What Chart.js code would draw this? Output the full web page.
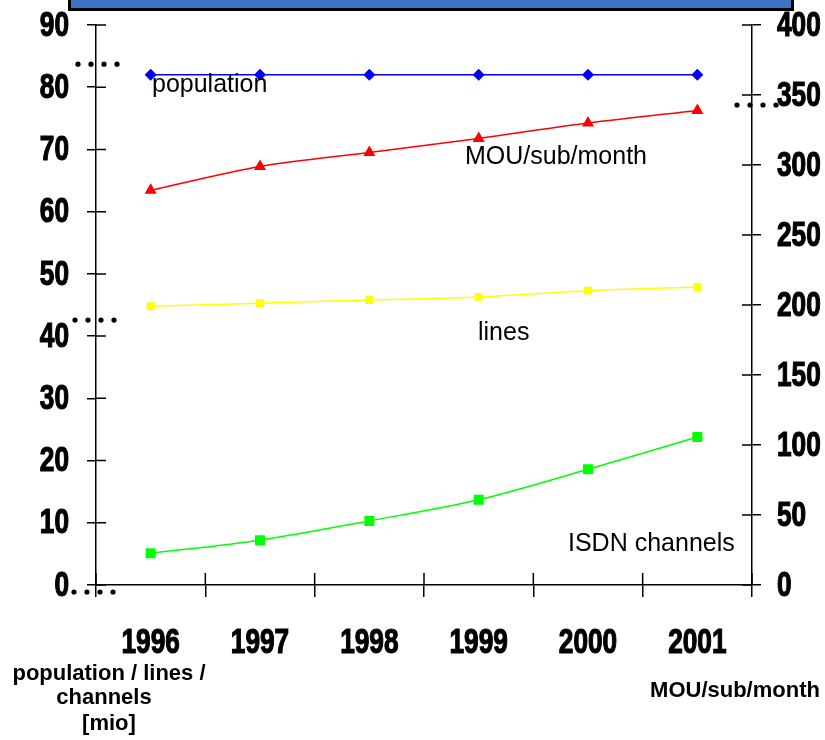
<!DOCTYPE html>
<html>
<head>
<meta charset="utf-8">
<script src="https://cdn.jsdelivr.net/npm/chart.js@4/dist/chart.umd.min.js"></script>
<style>
  html, body { margin: 0; padding: 0; background: #fff; }
  #wrap { position: relative; width: 825px; height: 740px; overflow: hidden; }
  #banner { position: absolute; left: 68px; top: -12px; width: 720px; height: 17px;
            background: #3b74c5; border: 3px solid #000; }
  canvas { position: absolute; left: 0; top: 0; }
</style>
</head>
<body>
<div id="wrap">
  <canvas id="chart" width="825" height="740"></canvas>
  <div id="banner"></div>
</div>
<script>
const years = ['1996', '1997', '1998', '1999', '2000', '2001'];
const population = [82, 82, 82, 82, 82, 82];
const mouPerSub = [282, 299, 309, 319, 330, 339];
const lines = [44.8, 45.3, 45.8, 46.3, 47.3, 47.9];
const isdnChannels = [5.1, 7.2, 10.3, 13.7, 18.6, 23.8];

// narrow heavy numbers: Liberation Sans Bold squeezed horizontally
function narrowText(c, txt, x, y, align) {
  const sx = 0.75;
  c.save();
  c.font = 'bold 35px "Liberation Sans", Arial, sans-serif';
  c.textBaseline = 'middle';
  const w = c.measureText(txt).width * sx;
  let left = x;
  if (align === 'right') left = x - w;
  else if (align === 'center') left = x - w / 2;
  c.translate(left, y);
  c.scale(sx, 1);
  c.textAlign = 'left';
  c.fillText(txt, 0, 0);
  c.lineWidth = 1.2;
  c.strokeStyle = '#000';
  c.strokeText(txt, 0, 0);
  c.restore();
}

// tick labels, inward halves of tick marks, captions, stray dots
const decor = {
  id: 'decor',
  afterDraw(chart) {
    const c = chart.ctx;
    const yl = chart.scales.y, yr = chart.scales.y2, x = chart.scales.x;
    c.save();
    c.strokeStyle = '#000';
    c.lineWidth = 1.5;
    c.beginPath();
    yl.ticks.forEach((t, i) => {
      const p = yl.getPixelForTick(i);
      c.moveTo(yl.right, p); c.lineTo(yl.right + 10, p);
    });
    yr.ticks.forEach((t, i) => {
      const p = yr.getPixelForTick(i);
      c.moveTo(yr.left - 10, p); c.lineTo(yr.left, p);
    });
    for (let i = 0; i <= years.length; i++) {
      const p = x.left + (x.right - x.left) * i / years.length;
      c.moveTo(p, x.top - 12); c.lineTo(p, x.top);
    }
    c.stroke();

    c.fillStyle = '#000';
    yl.ticks.forEach((t, i) => narrowText(c, String(t.value), yl.right - 27, yl.getPixelForTick(i) + 1, 'right'));
    yr.ticks.forEach((t, i) => narrowText(c, String(t.value), yr.left + 25, yr.getPixelForTick(i) + 1, 'left'));
    x.ticks.forEach((t, i) => narrowText(c, x.getLabelForValue(t.value), x.getPixelForTick(i), 643, 'center'));

    c.font = '25px "Liberation Sans", Arial, sans-serif';
    c.textBaseline = 'middle';
    c.textAlign = 'left';
    c.fillText('population', 152, 85);
    c.fillText('MOU/sub/month', 465, 157);
    c.fillText('lines', 478, 333);
    c.fillText('ISDN channels', 568, 544);

    c.font = 'bold 22px "Liberation Sans", Arial, sans-serif';
    c.textAlign = 'center';
    c.fillText('population / lines /', 109, 674);
    c.fillText('channels', 104, 698);
    c.fillText('[mio]', 109, 724);
    c.fillText('MOU/sub/month', 735, 691);

    const dots = (x0, y0) => {
      for (let k = 0; k < 4; k++) {
        c.beginPath();
        c.arc(x0 + k * 13, y0, 2.6, 0, Math.PI * 2);
        c.fill();
      }
    };
    dots(78, yl.getPixelForValue(80) - 23);
    dots(75, yl.getPixelForValue(40) - 16);
    dots(74, yl.getPixelForValue(0) + 7);
    dots(737, yr.getPixelForValue(350) + 10);
    c.restore();
  }
};

new Chart(document.getElementById('chart'), {
  type: 'line',
  data: {
    labels: years,
    datasets: [
      { label: 'population', data: population, yAxisID: 'y', borderColor: '#0000ff', backgroundColor: '#0000ff',
        pointStyle: 'rectRot', pointRadius: 5, borderWidth: 1.5, tension: 0 },
      { label: 'MOU/sub/month', data: mouPerSub, yAxisID: 'y2', borderColor: '#ff0000', backgroundColor: '#ff0000',
        pointStyle: 'triangle', pointRadius: 5.5, borderWidth: 1.5, tension: 0.3 },
      { label: 'lines', data: lines, yAxisID: 'y', borderColor: '#ffff00', backgroundColor: '#ffff00',
        pointStyle: 'rect', pointRadius: 4.5, borderWidth: 1.5, tension: 0.3 },
      { label: 'ISDN channels', data: isdnChannels, yAxisID: 'y', borderColor: '#00ff00', backgroundColor: '#00ff00',
        pointStyle: 'rect', pointRadius: 6, borderWidth: 1.5, tension: 0.3 }
    ]
  },
  options: {
    responsive: false,
    animation: false,
    layout: { padding: { top: 25, left: 0, right: 0, bottom: 0 } },
    plugins: { legend: { display: false }, tooltip: { enabled: false } },
    elements: { point: { borderWidth: 0 } },
    scales: {
      x: {
        offset: true,
        grid: { offset: true, drawOnChartArea: false, tickLength: 12, color: '#000', lineWidth: 1.5 },
        border: { color: '#000', width: 1.5 },
        ticks: { display: false },
        afterFit(s) { s.height = 155; }
      },
      y: {
        position: 'left',
        min: 0, max: 90,
        ticks: { stepSize: 10, display: false },
        grid: { drawOnChartArea: false, tickLength: 9, color: '#000', lineWidth: 1.5 },
        border: { color: '#000', width: 1.5 },
        afterFit(s) { s.width = 96; }
      },
      y2: {
        position: 'right',
        min: 0, max: 400,
        ticks: { stepSize: 50, display: false },
        grid: { drawOnChartArea: false, tickLength: 9, color: '#000', lineWidth: 1.5 },
        border: { color: '#000', width: 1.5 },
        afterFit(s) { s.width = 73; }
      }
    }
  },
  plugins: [decor]
});
</script>
</body>
</html>
